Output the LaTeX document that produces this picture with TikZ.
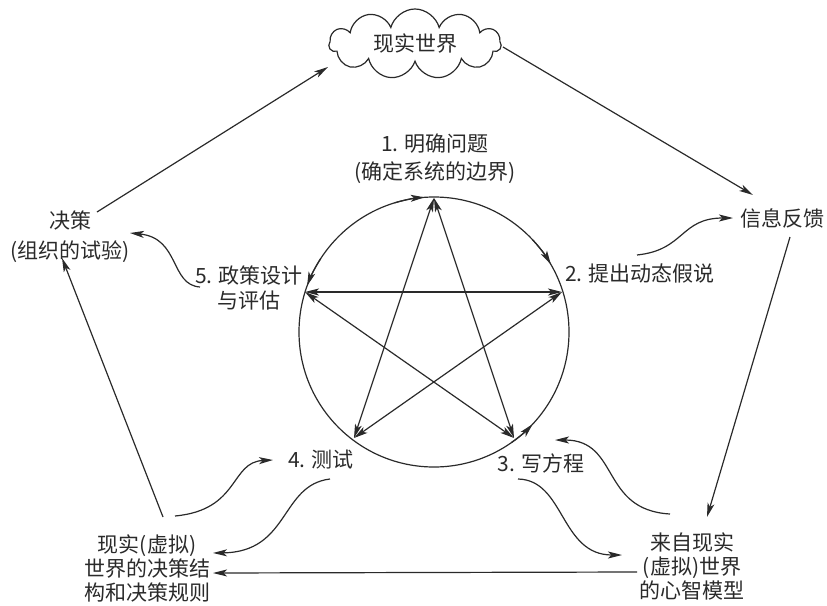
\documentclass[tikz,border=0pt]{standalone}
\usepackage{fontspec}
\setmainfont{Noto Sans CJK SC}
\usetikzlibrary{arrows.meta,shapes.symbols,calc}
\definecolor{ink}{HTML}{2A2A2A}
\tikzset{mytip/.tip={Stealth[length=14pt,width=7pt,inset=3.5pt]}}
\begin{document}
\begin{tikzpicture}[x=1pt,y=-1pt,
  every node/.style={font=\fontsize{21}{24}\selectfont, text=ink, align=center, inner sep=1pt},
  arr/.style={draw=ink, line width=1.2pt, -mytip},
  penta/.style={draw=ink, line width=1.2pt, mytip-mytip},
  cloudbox/.style={cloud, cloud puffs=11, cloud ignores aspect, draw=ink, line width=1.2pt, minimum width=172pt, minimum height=70pt, inner sep=0pt},
  circ/.style={draw=ink, line width=1.2pt}
]
\useasboundingbox (0,0) rectangle (827,605);

% nodes
\node[cloudbox] (cloud) at (415,44) {现实世界};
\node (fb) at (782,218) {信息反馈};
\node[font=\fontsize{21}{30}\selectfont] (dec) at (70,237) {决策\\(组织的试验)};
\node (real) at (147,568) {现实(虚拟)\\世界的决策结\\构和决策规则};
\node (mental) at (692,566) {来自现实\\(虚拟)世界\\的心智模型};
\node[font=\fontsize{21}{28}\selectfont] (n1) at (435,159) {1. 明确问题\\(确定系统的边界)};
\node (n2) at (640,273) {2. 提出动态假说};
\node (n3) at (541,463) {3. 写方程};
\node (n4) at (321,460) {4. 测试};
\node[font=\fontsize{21}{25}\selectfont] (n5) at (249,288) {5. 政策设计\\与评估};

% circle
\coordinate (O) at (434,332);
\draw[circ] (O) circle[radius=135pt];
% arrow marks on the circle
\draw[circ, -mytip] ($(O)+(107:135pt)$) arc[start angle=107, end angle=94, radius=135pt];
\draw[circ, -mytip] ($(O)+(43:135pt)$) arc[start angle=43, end angle=30, radius=135pt];
\draw[circ, -mytip] ($(O)+(147:135pt)$) arc[start angle=147, end angle=160, radius=135pt];
\draw[circ, -mytip] ($(O)+(-55:135pt)$) arc[start angle=-55, end angle=-43, radius=135pt];

% pentagram vertices
\coordinate (v1) at (434,198);
\coordinate (v2) at (562,292);
\coordinate (v3) at (514,438);
\coordinate (v4) at (354,438);
\coordinate (v5) at (305,292);
\draw[penta] (v1) -- (v3);
\draw[penta] (v1) -- (v4);
\draw[penta] (v2) -- (v4);
\draw[penta] (v2) -- (v5);
\draw[penta] (v3) -- (v5);

% outer straight connectors
\draw[arr] ($(dec)+(27,-25)$) -- ($(cloud)+(-87,23)$);
\draw[arr] ($(cloud)+(88,3)$) -- ($(fb)+(-29,-23)$);
\draw[arr] ($(fb)+(8,19)$) -- ($(mental)+(15,-49)$);
\draw[arr] ($(mental)+(-55,6)$) -- ($(real)+(66,5)$);
\draw[arr] ($(real)+(16,-51)$) -- ($(dec)+(-8,21)$);

% curved connectors
\draw[arr] ($(n5)+(-49,-1)$) .. controls +(-30,-2) and +(50,5) .. ($(dec)+(60,-4)$);
\draw[arr] ($(n2)+(-3,-18)$) .. controls +(48,-5) and +(-53,0) .. ($(fb)+(-49,0)$);
\draw[arr] ($(n3)+(-23,16)$) .. controls +(47,1) and +(-62,0) .. ($(mental)+(-70,-11)$);
\draw[arr] ($(mental)+(-22,-52)$) .. controls +(-70,-4) and +(65,0) .. ($(n3)+(14,-23)$);
\draw[arr] ($(n4)+(9,19)$) .. controls +(-50,6) and +(77,-1) .. ($(real)+(66,-15)$);
\draw[arr] ($(real)+(28,-52)$) .. controls +(65,-6) and +(-43,2) .. ($(n4)+(-48,0)$);
\end{tikzpicture}
\end{document}
